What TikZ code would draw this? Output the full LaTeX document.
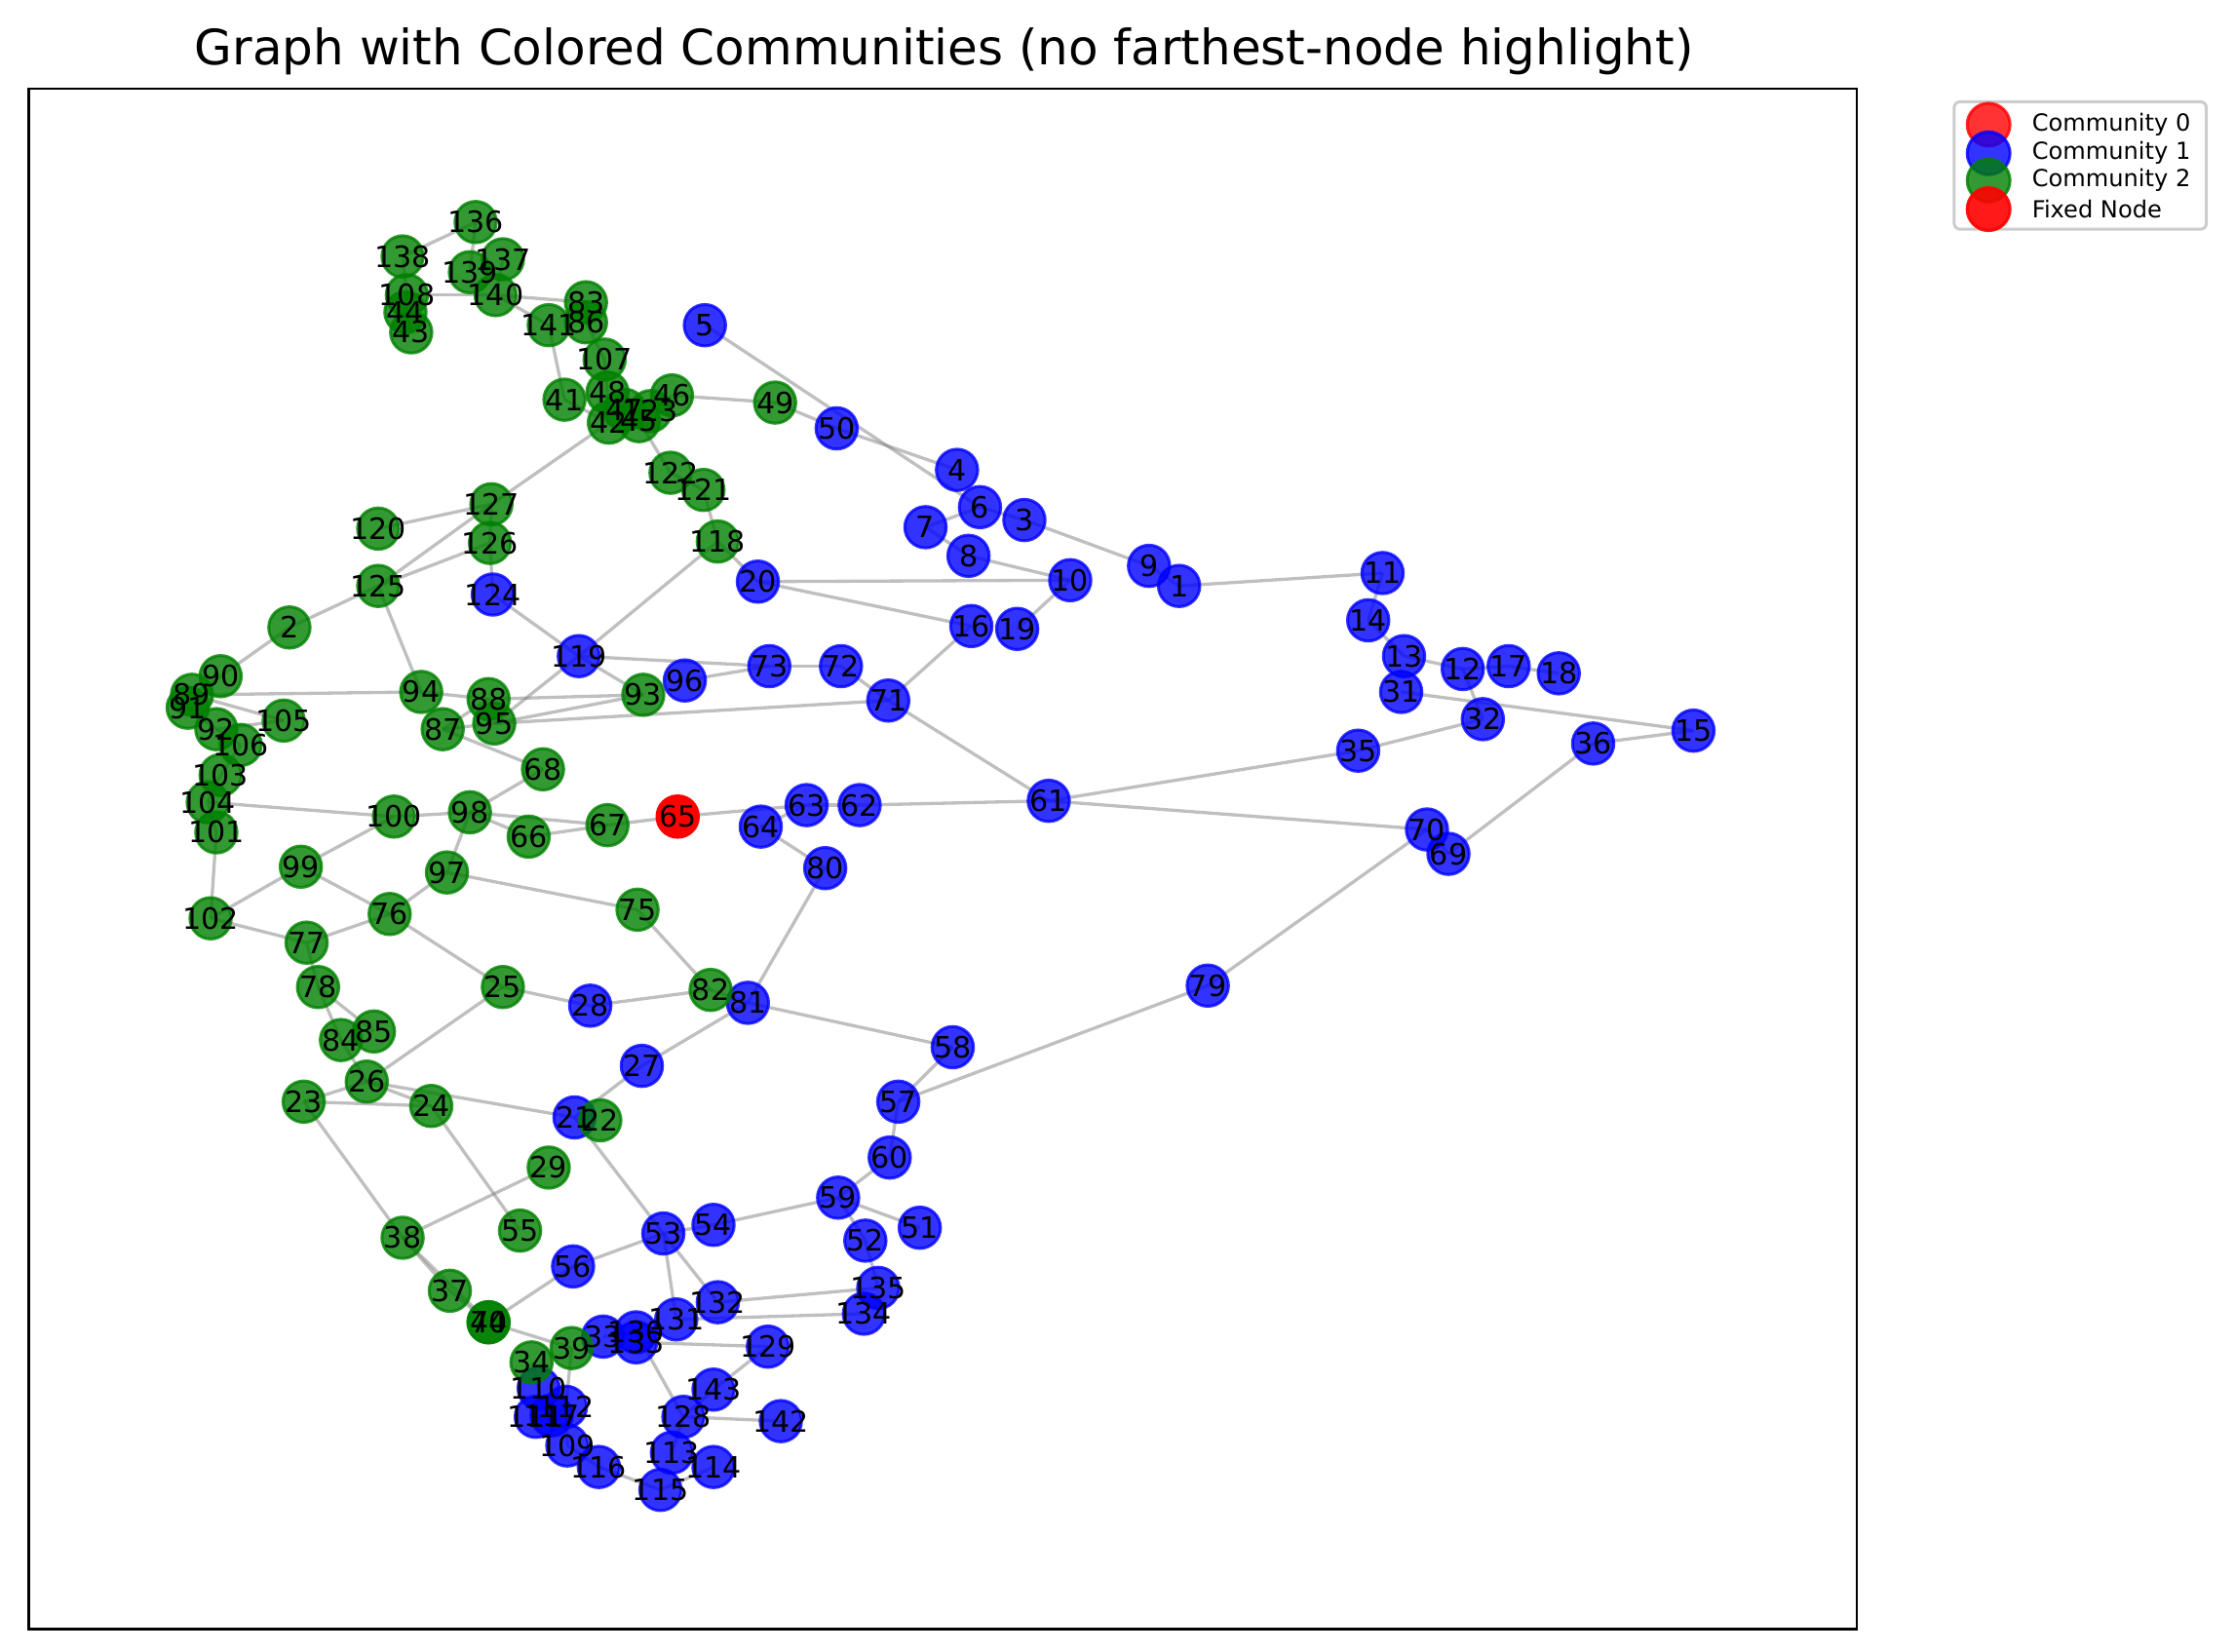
\documentclass[tikz,border=0pt]{standalone}
\usepackage{fontspec}
\setmainfont{DejaVu Sans}
\usetikzlibrary{backgrounds}

\definecolor{commred}{RGB}{255,0,0}
\definecolor{commblue}{RGB}{0,0,255}
\definecolor{commgreen}{RGB}{0,128,0}
\definecolor{edgegray}{RGB}{128,128,128}
\definecolor{legendgray}{RGB}{204,204,204}

% community 1 (blue) and community 2 (green): name/x/y
\newcommand\bluenodes{5/492/227, 50/584/299, 4/668/328, 6/684/354, 3/715/363,
  7/646/368, 8/676/388, 9/802/395, 1/823/409, 10/747/405, 20/529/406,
  16/678/437, 19/710/439, 11/965/400, 14/955/433, 13/980/458, 12/1021/467,
  17/1053/465, 18/1088/470, 31/978/483, 32/1035/502, 35/948/524,
  36/1112/519, 15/1182/510, 70/996/579, 69/1011/596, 61/732/559,
  62/600/562, 63/563/562, 64/531/577, 80/576/606, 124/344/415,
  119/404/458, 96/478/475, 73/537/465, 72/587/465, 71/620/489,
  28/412/702, 81/522/700, 79/843/688, 58/665/731, 27/448/744,
  57/627/769, 21/401/780, 60/621/808, 59/585/836, 53/463/861,
  54/498/855, 51/642/857, 52/604/866, 56/400/884, 135/613/899,
  134/603/917, 132/501/909, 131/472/921, 129/536/940, 33/421/933,
  130/444/930, 133/444/937, 143/498/970, 128/477/989, 142/545/992,
  110/376/969, 111/374/989, 117/385/988, 112/395/982, 109/396/1009,
  116/418/1024, 113/469/1014, 114/498/1024, 115/461/1040}
\newcommand\greennodes{136/332/155, 138/281/179, 137/351/181, 139/328/190,
  108/284/206, 44/283/218, 43/287/232, 140/346/206, 83/409/211,
  86/409/225, 141/383/227, 107/422/251, 41/394/279, 48/424/274,
  42/425/295, 47/436/286, 45/446/294, 123/454/287, 46/469/276,
  49/541/281, 122/468/330, 121/491/342, 118/501/378, 127/343/352,
  120/264/369, 126/342/379, 125/264/409, 2/202/438, 90/154/472,
  89/134/485, 91/131/494, 92/151/509, 105/198/503, 106/168/520,
  94/294/483, 88/341/488, 87/309/509, 95/345/505, 93/449/485,
  68/379/537, 103/154/541, 104/145/560, 101/151/581, 100/275/570,
  98/328/567, 66/369/584, 67/424/576, 99/210/605, 97/312/609,
  102/147/641, 76/272/638, 75/445/635, 77/214/658, 78/222/689,
  25/351/689, 85/261/720, 84/238/726, 26/256/755, 23/212/769,
  24/301/772, 22/419/782, 82/496/691, 29/383/815, 38/281/864,
  55/363/859, 37/314/901, 40/341/923, 74/341/923, 39/399/941,
  34/371/951}

\begin{document}
\begin{tikzpicture}[
    x=0.488pt, y=-0.488pt,
    vertex/.style = {circle, inner sep=0pt, minimum size=14.1pt, line width=1pt,
      fill opacity=0.8, draw opacity=0.8},
    comm0/.style = {vertex, draw=commred, fill=commred},
    comm1/.style = {vertex, draw=commblue, fill=commblue},
    comm2/.style = {vertex, draw=commgreen, fill=commgreen},
    fixed/.style = {vertex, draw=commred, fill=commred, fill opacity=1, draw opacity=1},
    lbl/.style = {inner sep=0pt, font=\fontsize{10}{12}\selectfont},
    link/.style = {draw=edgegray, line width=1.1pt, draw opacity=0.5},
    legmark/.style = {vertex, minimum size=14.6pt},
    legtext/.style = {anchor=west, inner sep=0pt, font=\fontsize{8}{9.6}\selectfont},
    ]
    \useasboundingbox (0,0) rectangle (1560,1153);

    % title and frame
    \node[font=\fontsize{16.6}{20}\selectfont] (title) at (659,36)
        {Graph with Colored Communities (no farthest-node highlight)};
    \draw[line width=0.9pt] (20,62) rectangle (1296,1137);

    % nodes
    \foreach \n/\x/\y in \bluenodes {\node[comm1] (n\n) at (\x,\y) {};}
    \foreach \n/\x/\y in \greennodes {\node[comm2] (n\n) at (\x,\y) {};}
    \node[fixed] (n65) at (473,570) {};

    % labels
    \foreach \n/\x/\y in \bluenodes {\node[lbl] (t\n) at (n\n) {\n};}
    \foreach \n/\x/\y in \greennodes {\node[lbl] (t\n) at (n\n) {\n};}
    \node[lbl] (t65) at (n65) {65};

    % edges
    \begin{scope}[on background layer]
    \foreach \a/\b in {136/138, 136/139, 138/108, 108/140, 137/140, 140/83,
        140/141, 141/41, 83/86, 86/107, 107/48, 41/42, 48/42, 42/127, 45/122,
        46/49, 123/46, 122/121, 121/118, 118/20, 118/119, 108/44, 44/43,
        127/120, 127/125, 126/125, 127/126, 126/124, 124/119, 125/2, 125/94,
        2/90, 90/89, 94/89, 94/88, 88/93, 87/88, 87/95, 87/68, 95/93, 95/71,
        119/95, 119/93, 119/73, 96/73, 73/72, 72/71, 71/16, 71/61, 89/105,
        92/105, 91/92, 92/106, 106/103, 103/104, 104/101, 104/100, 100/98,
        98/68, 98/67, 98/66, 66/67, 67/65, 98/97, 100/99, 101/102, 102/99,
        102/77, 99/76, 77/76, 76/97, 97/75, 76/25, 77/78, 78/84, 78/85, 84/26,
        25/28, 28/82, 75/82, 82/81, 25/26, 26/23, 26/24, 23/24, 26/21, 27/21,
        27/81, 81/80, 81/58, 80/64, 65/63, 63/64, 63/62, 62/61, 61/35, 61/70,
        70/69, 70/79, 36/69, 36/15, 31/15, 35/32, 12/32, 13/12, 12/17, 17/18,
        14/13, 11/14, 1/11, 9/1, 3/9, 6/3, 5/6, 50/4, 49/50, 7/6, 7/8, 8/10,
        20/10, 20/16, 10/19, 57/58, 57/79, 57/60, 60/59, 59/54, 54/53, 59/51,
        59/52, 52/135, 53/56, 53/131, 53/132, 21/53, 23/38, 24/55, 38/29,
        38/37, 38/40, 37/74, 40/56, 40/39, 132/135, 131/134, 133/129,
        129/143, 130/128, 128/142, 143/128, 39/112, 109/116, 116/115,
        115/114, 113/128, 110/34, 111/117, 117/112, 112/109, 33/130}
      \draw[link] (n\a.center) -- (n\b.center);
    \end{scope}

    % legend
    \draw[legendgray, line width=1pt, rounded corners=2pt, fill=white]
        (1364,71) rectangle (1540,160);
    \node[legmark, draw=commred, fill=commred] (lg0) at (1388,87) {};
    \node[legmark, draw=commblue, fill=commblue] (lg1) at (1388,107) {};
    \node[legmark, draw=commgreen, fill=commgreen] (lg2) at (1388,126) {};
    \node[legmark, draw=commred, fill=commred, fill opacity=0.9, draw opacity=0.9] (lg3) at (1388,146) {};
    \node[legtext] (lt0) at (1418,87) {Community 0};
    \node[legtext] (lt1) at (1418,107) {Community 1};
    \node[legtext] (lt2) at (1418,126) {Community 2};
    \node[legtext] (lt3) at (1418,146) {Fixed Node};
\end{tikzpicture}
\end{document}
